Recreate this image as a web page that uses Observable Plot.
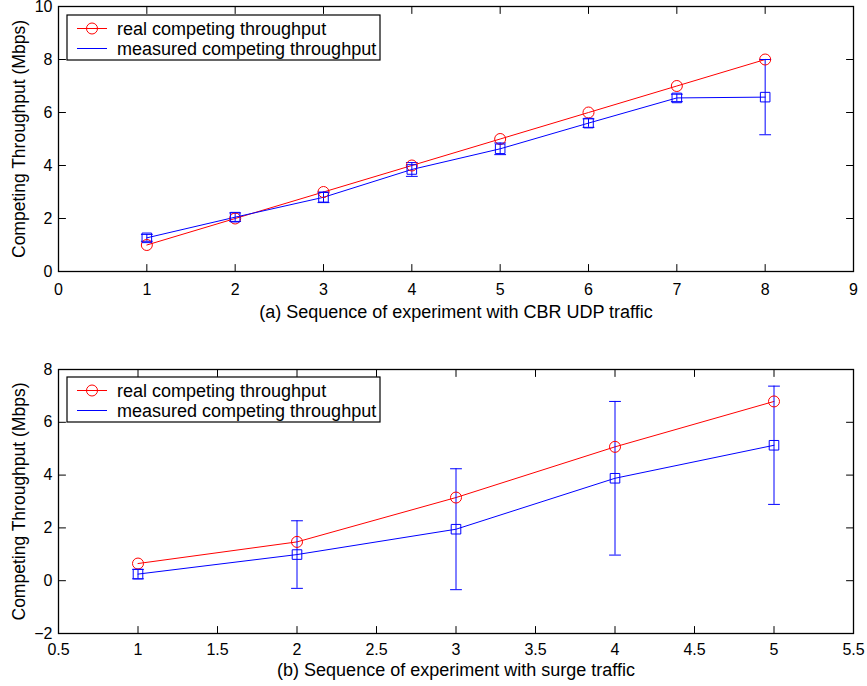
<!DOCTYPE html>
<html><head><meta charset="utf-8">
<script src="https://cdn.jsdelivr.net/npm/d3@7"></script>
<script src="https://cdn.jsdelivr.net/npm/@observablehq/plot@0.6"></script>
<style>
body{margin:0;background:#fff;}
#wrap{width:867px;}
#wrap svg{display:block;}
</style></head><body><div id="wrap"></div>
<script>
// ---- data ----
const seqA  = [1, 2, 3, 4, 5, 6, 7, 8];
const realA = [1, 2, 3, 4, 5, 6, 7, 8];
const measA = [1.27, 2.05, 2.8, 3.85, 4.63, 5.6, 6.55, 6.58];
const errA  = [0.13, 0.16, 0.2, 0.26, 0.22, 0.16, 0.14, 1.42];

const seqB  = [1, 2, 3, 4, 5];
const realB = [0.65, 1.47, 3.15, 5.07, 6.79];
const measB = [0.25, 0.99, 1.95, 3.88, 5.13];
const errB  = [0.18, 1.28, 2.29, 2.91, 2.24];

const xTicksA = [0, 1, 2, 3, 4, 5, 6, 7, 8, 9];
const yTicksA = [0, 2, 4, 6, 8, 10];
const xTicksB = [0.5, 1, 1.5, 2, 2.5, 3, 3.5, 4, 4.5, 5, 5.5];
const yTicksB = [-2, 0, 2, 4, 6, 8];

const legendLabels = ["real competing throughput", "measured competing throughput"];
const captionA = "(a) Sequence of experiment with CBR UDP traffic";
const captionB = "(b) Sequence of experiment with surge traffic";
const yLabel = "Competing Throughput (Mbps)";

const RED = "#ff0000", BLUE = "#0000ff";
const FONT = "'Liberation Sans', Arial, Helvetica, sans-serif";
const fmt = d3.format("~g");

const lineShape = {draw(ctx, l) { ctx.moveTo(0, 0); ctx.lineTo(0, -l); }};

function chart(o) {
  const realData = o.seq.map((x, i) => ({x, y: o.real[i]}));
  const measData = o.seq.map((x, i) => ({x, y: o.meas[i], lo: o.meas[i] - o.err[i], hi: o.meas[i] + o.err[i]}));
  const T = 7;
  const tick = (ticks, ch, anchor, rotate) => Plot.vector(ticks, {
    [ch]: d => d, frameAnchor: anchor, rotate, length: T, anchor: "start",
    shape: lineShape, stroke: "black", strokeWidth: 1
  });
  const svg = Plot.plot({
    width: 867, height: o.height,
    marginLeft: 58, marginRight: 14, marginTop: o.marginTop, marginBottom: o.marginBottom,
    style: {fontFamily: FONT, fontSize: "16px", color: "black", background: "white"},
    x: {domain: o.xDomain},
    y: {domain: o.yDomain},
    marks: [
      Plot.frame({stroke: "black", strokeWidth: 1.3}),
      tick(o.xTicks, "x", "bottom", 0),
      tick(o.xTicks, "x", "top", 180),
      tick(o.yTicks, "y", "left", 90),
      tick(o.yTicks, "y", "right", -90),
      Plot.axisX(o.xTicks, {anchor: "bottom", tickSize: 0, tickPadding: o.xPad, label: null, fontSize: 16, tickFormat: fmt}),
      Plot.axisY(o.yTicks, {anchor: "left", tickSize: 0, tickPadding: 6, label: null, fontSize: 16, tickFormat: fmt}),
      Plot.text([o.caption], {frameAnchor: "bottom", dy: o.capDy, lineAnchor: "middle", textAnchor: "middle", fontSize: 18, fill: "black"}),
      Plot.text([yLabel], {frameAnchor: "left", dx: -39, rotate: -90, lineAnchor: "middle", textAnchor: "middle", fontSize: 17.5, fill: "black"}),
      Plot.line(realData, {x: "x", y: "y", stroke: RED, strokeWidth: 1}),
      Plot.line(measData, {x: "x", y: "y", stroke: BLUE, strokeWidth: 1}),
      Plot.ruleX(measData, {x: "x", y1: "lo", y2: "hi", stroke: BLUE, strokeWidth: 1}),
      Plot.vector(measData, {x: "x", y: "lo", rotate: 90, length: 11, anchor: "middle", shape: lineShape, stroke: BLUE, strokeWidth: 1}),
      Plot.vector(measData, {x: "x", y: "hi", rotate: 90, length: 11, anchor: "middle", shape: lineShape, stroke: BLUE, strokeWidth: 1}),
      Plot.dot(realData, {x: "x", y: "y", r: 5.5, stroke: RED, fill: "none", strokeWidth: 1}),
      Plot.dot(measData, {x: "x", y: "y", symbol: "square", r: 5.4, stroke: BLUE, fill: "none", strokeWidth: 1})
    ]
  });
  // legend box in the upper-left corner of the frame
  const s = d3.select(svg);
  const lx = 58 + 9, ly = o.marginTop + o.legendTop;
  const g = s.append("g").attr("transform", `translate(${lx},${ly})`).attr("text-anchor", "start");
  g.append("rect").attr("width", 313).attr("height", 45).attr("fill", "white").attr("stroke", "black").attr("stroke-width", 1.2);
  const rows = [{c: RED, dot: true}, {c: BLUE, dot: false}];
  rows.forEach((r, i) => {
    const yy = 13.5 + i * 20;
    g.append("line").attr("x1", 10).attr("x2", 40).attr("y1", yy).attr("y2", yy).attr("stroke", r.c).attr("stroke-width", 1);
    if (r.dot) g.append("circle").attr("cx", 25).attr("cy", yy).attr("r", 5.5).attr("fill", "none").attr("stroke", r.c);
    g.append("text").attr("x", 50).attr("y", yy).attr("dy", "0.35em").attr("text-anchor", "start")
      .attr("font-size", 18).attr("font-family", FONT).attr("fill", "black").text(legendLabels[i]);
  });
  return svg;
}

const wrap = document.getElementById("wrap");
wrap.append(chart({
  seq: seqA, real: realA, meas: measA, err: errA,
  xDomain: [0, 9], yDomain: [0, 10], xTicks: xTicksA, yTicks: yTicksA,
  height: 343, marginTop: 6, marginBottom: 72, xPad: 12, capDy: 41, legendTop: 9,
  caption: captionA
}));
wrap.append(chart({
  seq: seqB, real: realB, meas: measB, err: errB,
  xDomain: [0.5, 5.5], yDomain: [-2, 8], xTicks: xTicksB, yTicks: yTicksB,
  height: 343, marginTop: 26, marginBottom: 53, xPad: 10, capDy: 37, legendTop: 8,
  caption: captionB
}));
</script>
</body></html>
